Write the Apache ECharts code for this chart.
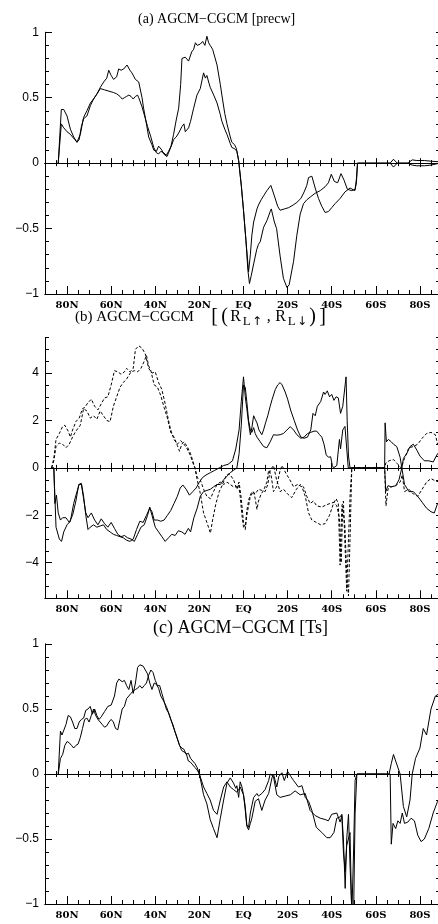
<!DOCTYPE html>
<html><head><meta charset="utf-8">
<script src="https://cdn.jsdelivr.net/npm/echarts@6/dist/echarts.min.js"></script>
<style>html,body{margin:0;padding:0;background:#fff}#c{width:438px;height:924px}</style>
</head><body><div id="c"></div>
<script>
// ---------- data ----------
const latTicks = [80, 60, 40, 20, 0, -20, -40, -60, -80];
const latTickLabels = ['80N', '60N', '40N', '20N', 'EQ', '20S', '40S', '60S', '80S'];
const titles = [
  '(a) AGCM\u2212CGCM [precw]',
  '(b) AGCM\u2212CGCM {g| }{b|[}{b|(}{r|R}{s|L}{a|\u2191}{r|,}{r|R}{s|L}{a|\u2193}{b|)}{b|]}',
  '(c) AGCM\u2212CGCM [Ts]'
];
const yLabelsA = [1, 0.5, 0, -0.5, -1];
const yLabelsB = [4, 2, 0, -2, -4];
const yLabelsC = [1, 0.5, 0, -0.5, -1];

const precwA = [[84,0],[82.6,0.41],[81.5,0.41],[80,0.36],[78.5,0.26],[77,0.2],[75.5,0.16],[74,0.22],[72.5,0.35],[71,0.4],[69.4,0.46],[68,0.49],[66.4,0.53],[64.9,0.58],[63.4,0.62],[62,0.65],[61.1,0.71],[60,0.67],[58.9,0.64],[57.5,0.66],[56.6,0.72],[55.5,0.71],[54.3,0.72],[52.8,0.75],[51.5,0.71],[50.6,0.69],[49,0.64],[47.5,0.62],[46,0.5],[45.3,0.42],[44,0.3],[43,0.2],[41.5,0.14],[40.7,0.1],[39.5,0.09],[38.5,0.13],[37.7,0.14],[37,0.1],[36.2,0.07],[34.7,0.05],[33,0.12],[31.7,0.22],[30.5,0.33],[29.4,0.42],[28.5,0.6],[27.9,0.8],[26.4,0.81],[24.9,0.78],[23.5,0.85],[22.6,0.87],[21.8,0.92],[21,0.9],[19.6,0.91],[18.5,0.93],[17.5,0.9],[16.6,0.97],[15.8,0.92],[15.1,0.9],[14,0.87],[12,0.75],[10.5,0.6],[9.8,0.52],[8.5,0.38],[7.5,0.3],[6,0.2],[5.3,0.16],[4,0.14],[3.2,0.11],[2.2,0.02],[1,-0.17],[0,-0.36],[-1.1,-0.59],[-2,-0.82],[-2.7,-0.92],[-3.5,-0.86],[-4.6,-0.77],[-6,-0.66],[-6.8,-0.62],[-7.6,-0.6],[-9.1,-0.49],[-10.6,-0.44],[-12.1,-0.37],[-12.6,-0.35],[-14,-0.45],[-15,-0.5],[-16.6,-0.71],[-18.1,-0.88],[-19.7,-0.95],[-20.7,-0.93],[-22.7,-0.75],[-24.2,-0.55],[-25.7,-0.39],[-27.2,-0.31],[-28.7,-0.28],[-30.2,-0.26],[-32.5,-0.23],[-34.8,-0.21],[-37,-0.18],[-38.5,-0.15],[-39.8,-0.085],[-41.2,-0.14],[-42.7,-0.15],[-44.2,-0.08],[-45.6,-0.13],[-47.1,-0.2],[-49.1,-0.21],[-50.6,-0.2],[-51.2,-0.12],[-51.7,0],[-66.5,0],[-68,-0.03],[-69.7,0],[-74.5,0],[-76.5,-0.015],[-78.6,-0.02],[-82,-0.02],[-85,-0.015],[-89,0]];
const precwB = [[84,0],[82.6,0.30],[81.5,0.27],[80,0.24],[78.5,0.22],[77.7,0.21],[76.5,0.18],[75.5,0.16],[74.5,0.18],[73.5,0.28],[72.5,0.34],[71,0.36],[69.4,0.44],[68,0.49],[66.4,0.53],[64.9,0.57],[63,0.56],[61,0.55],[59,0.54],[57.5,0.53],[56,0.51],[55,0.49],[54,0.5],[53,0.51],[52,0.52],[51,0.51],[50,0.49],[49,0.51],[48,0.52],[47.5,0.5],[46,0.43],[45,0.37],[43.5,0.28],[42,0.2],[40.7,0.12],[39.5,0.08],[38.5,0.07],[37.5,0.09],[36.2,0.08],[35,0.06],[34,0.09],[32.5,0.14],[31.7,0.18],[30.5,0.2],[29.4,0.23],[27.9,0.28],[27,0.3],[26.4,0.24],[25.5,0.25],[24.9,0.27],[24,0.32],[22.6,0.42],[21.1,0.52],[19.6,0.57],[18.1,0.69],[17.3,0.65],[16.6,0.67],[15.8,0.62],[15.1,0.58],[13.5,0.52],[12,0.46],[10.5,0.37],[9.8,0.32],[8.5,0.26],[7.5,0.22],[6,0.15],[5.3,0.12],[4,0.11],[3,0.09],[2.2,0.02],[1,-0.17],[0,-0.36],[-1.1,-0.59],[-2.3,-0.83],[-3.1,-0.7],[-3.8,-0.55],[-4.6,-0.45],[-6.1,-0.35],[-6.8,-0.32],[-8,-0.28],[-9.1,-0.25],[-10.6,-0.21],[-12.4,-0.17],[-14,-0.25],[-15.5,-0.33],[-16.6,-0.36],[-18.5,-0.35],[-20.5,-0.34],[-22.5,-0.32],[-24.2,-0.3],[-26,-0.27],[-27.5,-0.22],[-28.7,-0.17],[-29.5,-0.11],[-31,-0.1],[-32.5,-0.19],[-34,-0.27],[-35.5,-0.33],[-37,-0.377],[-38.5,-0.37],[-40,-0.34],[-41.5,-0.31],[-43.8,-0.27],[-46,-0.22],[-48.3,-0.19],[-50.5,-0.21],[-51.2,-0.15],[-51.7,0],[-66.5,0],[-68,0.03],[-69.7,0],[-74.5,0],[-76.5,0.025],[-78.6,0.02],[-82,0.02],[-85,0.015],[-89,0.01]];

const rlSolidA = [[87,0],[86,0],[85.5,-1.5],[84.8,-1.15],[84,-1.9],[83,-2.2],[82,-2.1],[80.5,-2.1],[79,-2.3],[77.5,-2.0],[76,-1.4],[74.7,-0.7],[73.5,-0.65],[72.5,-1.2],[71.5,-2.0],[70.5,-2.6],[69.5,-2.5],[68,-2.4],[66.5,-2.5],[65,-2.45],[63.5,-2.4],[62,-2.6],[60.5,-2.7],[59,-2.8],[57.5,-2.85],[56,-2.9],[54.5,-2.95],[53,-3.05],[51.5,-3.1],[50,-3.0],[48.5,-2.6],[47,-2.25],[45.5,-2.3],[44,-2.0],[42.5,-1.7],[41.5,-1.85],[40.5,-2.2],[39,-2.2],[37.5,-2.25],[36,-2.2],[34.5,-2.0],[33,-1.8],[31.5,-1.5],[30,-1.2],[28.7,-0.85],[27.5,-0.72],[26,-0.9],[24.5,-1.15],[23,-1.0],[21.5,-0.85],[20,-0.6],[18.5,-0.4],[17,-0.3],[15,-0.2],[13,-0.1],[11,0],[9,0.1],[7,0.15],[5,0.3],[3.5,0.8],[2,1.6],[1,2.8],[0,3.84],[-0.8,3.0],[-1.5,2.5],[-2.3,1.9],[-3.1,1.4],[-3.8,1.7],[-4.6,2.2],[-5.3,2.05],[-6.1,1.9],[-7,1.6],[-8.3,1.4],[-9.1,1.6],[-10,1.9],[-11,2.2],[-12.1,2.6],[-13,2.9],[-14.4,3.3],[-15.5,3.5],[-16.6,3.6],[-17.5,3.5],[-18.9,3.2],[-20,2.9],[-21.5,2.4],[-23,2.0],[-24.5,1.6],[-26,1.3],[-27.5,1.25],[-29,1.3],[-30.5,1.6],[-31.5,2.3],[-32.5,2.2],[-33.5,2.6],[-35,2.8],[-36.3,3.2],[-37,3.1],[-38,3.25],[-39,3.0],[-40,3.1],[-41,2.85],[-42,3.0],[-43,2.95],[-44,2.3],[-45,2.6],[-46.5,3.84],[-47,2.0],[-47.6,0.5],[-48.3,0],[-64,0],[-64.2,1.9],[-64.8,1.1],[-65.7,1.2],[-67,1.1],[-68,1.0],[-69.5,0.9],[-71,0.45],[-71.8,0],[-73,-0.7],[-75,-1.0],[-77,-1.0],[-79,-1.2],[-81,-1.45],[-83,-1.7],[-85,-1.85],[-86.5,-1.9],[-88,-1.5],[-89,-1.4]];
const rlSolidB = [[87,0],[86,0],[85,-2.5],[83.5,-3.0],[82.5,-3.1],[81.5,-2.7],[80,-2.4],[78.5,-2.25],[77,-1.5],[75.5,-1.0],[74.5,-0.7],[73.5,-0.7],[72.5,-1.3],[71.5,-1.9],[70.5,-2.1],[69,-1.9],[67.5,-2.2],[66,-2.4],[64.5,-2.15],[63,-2.35],[61.5,-2.5],[60,-2.3],[58.5,-2.55],[57,-2.8],[55.5,-2.9],[54,-2.85],[52.5,-2.95],[51,-3.0],[49.5,-3.1],[48,-2.8],[46.5,-2.5],[45,-2.4],[43.5,-2.0],[42.5,-1.65],[41.5,-2.0],[40,-2.5],[38.5,-2.7],[37,-2.9],[35.5,-3.1],[34,-2.95],[32.5,-2.8],[31,-2.85],[29.5,-2.65],[28,-2.7],[26.5,-2.8],[25,-2.55],[24,-2.7],[22.5,-2.1],[21,-1.7],[19.6,-1.2],[18.1,-1.0],[16.6,-0.95],[15,-0.9],[13.6,-0.8],[12,-0.7],[10.5,-0.7],[9,-0.5],[7.5,-0.35],[6,-0.2],[4.5,-0.1],[3,0],[2,0.6],[1,1.8],[0,3.5],[-0.8,3.4],[-1.5,2.8],[-2.3,2.0],[-3.1,1.6],[-3.8,1.5],[-4.6,1.7],[-5.3,1.45],[-6.1,1.3],[-7.6,1.1],[-9.1,0.9],[-9.8,0.82],[-10.6,0.85],[-12.1,1.1],[-13.6,1.4],[-15,1.38],[-16.6,1.4],[-18.1,1.45],[-19.7,1.6],[-21.2,1.74],[-22.7,1.6],[-24.2,1.4],[-26,1.25],[-27.5,1.3],[-29,1.45],[-30.5,1.5],[-32,1.55],[-33.2,1.55],[-34.5,1.4],[-35.5,1.3],[-36.5,1.0],[-37.5,0.55],[-38.5,0.45],[-39.5,0.47],[-40.3,0.1],[-40.8,0],[-42.3,0.1],[-43.5,1.2],[-44,0.8],[-45,1.6],[-46,1.75],[-46.8,1.8],[-47.5,0],[-64,0],[-64.5,-1.0],[-65.5,-0.75],[-67,-0.8],[-69,-0.75],[-70.5,-0.5],[-71.8,0],[-72.5,0.4],[-74,0.6],[-75.5,0.9],[-77,1.0],[-78.6,0.75],[-80,0.5],[-82,0.3],[-84,0.3],[-86,0.25],[-88,0.6],[-89,0.7]];
const rlDashA = [[87,0],[86,0.4],[85,1.2],[83.5,1.45],[82,1.75],[81,1.8],[79.5,1.55],[78.5,1.3],[77.5,1.6],[76,1.95],[74.5,2.1],[73,2.5],[72,2.55],[70.5,2.75],[69,2.9],[67.5,2.6],[66,2.45],[64.5,2.7],[63,2.95],[61.5,3.0],[60,3.5],[58.5,4.1],[57,4.05],[55.5,3.95],[54,4.05],[53,4.2],[51.5,4.05],[50,4.2],[49,5.0],[47.5,5.15],[46,5.05],[44.5,4.8],[43,4.2],[41.5,4.0],[40,4.05],[38.5,3.6],[37,3.3],[35.5,2.7],[34,2.0],[33,1.6],[31.5,1.2],[30,1.0],[28.5,1.15],[27,1.0],[25.5,0.8],[24,0.5],[22.5,0.1],[22,0],[21,-0.5],[19.6,-1.07],[18.1,-1.9],[16.6,-2.3],[15,-2.75],[14,-2.2],[12.5,-1.5],[11,-1.0],[9.5,-0.7],[8,-0.35],[7,-0.25],[6,-0.3],[4.5,-0.5],[3,-0.9],[2.2,-0.7],[1.5,-1.2],[0.7,-2.0],[0,-2.5],[-0.8,-2.6],[-1.5,-2.0],[-2.3,-1.6],[-3.1,-1.2],[-4.6,-1.0],[-5.3,-1.3],[-6.1,-1.75],[-6.8,-1.4],[-8,-1.1],[-9.1,-0.95],[-10.6,-0.6],[-11.4,-0.1],[-12.5,-0.3],[-13.6,-1.0],[-15,-0.8],[-16.6,-0.1],[-17.5,0.1],[-18.5,-0.1],[-19.7,-0.3],[-21,-0.5],[-22.7,-0.8],[-24.5,-0.7],[-26.5,-0.8],[-28,-1.2],[-29.5,-1.9],[-31,-2.2],[-33,-2.3],[-35,-2.4],[-37,-2.35],[-39,-2.0],[-40.8,-1.5],[-42,-1.3],[-43,-1.5],[-43.8,-4.1],[-44.6,-1.6],[-45.3,-1.4],[-46,-3.2],[-46.8,-5.2],[-47.6,-3.0],[-48.3,-1.2],[-49.1,0],[-64,0],[-64.5,0.2],[-66,0.3],[-68,0.35],[-69.5,0.2],[-71.5,0],[-73,0.4],[-75,0.85],[-77,0.9],[-79,1.0],[-81,1.25],[-83,1.45],[-85,1.5],[-87,1.4],[-88,1.0],[-89,0.9]];
const rlDashB = [[87,0],[86,0.3],[85,0.9],[83.5,1.05],[82,1.0],[80.5,0.85],[79,1.0],[77.5,1.3],[76,1.55],[74,1.8],[72.5,2.5],[71,2.4],[69.5,2.1],[68,2.2],[66.5,2.05],[65,2.4],[63.5,2.2],[62,2.0],[60.5,1.95],[59,2.6],[57.5,3.0],[56,3.4],[54.5,3.6],[53,3.75],[51,4.05],[49.5,4.1],[48,4.05],[46.5,4.2],[45,4.5],[44,4.75],[43,4.3],[42,4.1],[40.5,3.5],[39,3.4],[37.5,3.05],[36,2.55],[34.5,2.1],[33,1.5],[31.5,1.3],[30,0.95],[29,0.7],[28,1.0],[27,1.1],[25.5,0.9],[24,0.6],[23,0.3],[22,0],[21,-0.4],[19.6,-0.5],[18.1,-0.9],[16.6,-1.2],[15,-1.3],[13.6,-1.0],[12,-0.7],[10.5,-0.6],[9,-0.7],[7.5,-0.6],[6,-0.7],[4.5,-0.8],[3,-0.8],[2,-0.6],[1,-1.3],[0,-2.3],[-0.8,-2.5],[-1.5,-1.8],[-2.5,-1.3],[-3.8,-1.0],[-5.3,-1.1],[-6.8,-0.9],[-8.3,-0.95],[-9.8,-1.0],[-11,-0.7],[-12.1,-0.1],[-13.6,0.1],[-15,-0.5],[-16.6,-1.0],[-18.1,-0.9],[-20,-1.1],[-21.9,-1.25],[-24,-0.9],[-25.7,-0.7],[-27.2,-0.8],[-28.7,-1.2],[-30.2,-1.5],[-31.7,-1.4],[-33.2,-1.6],[-35.5,-1.65],[-37.8,-1.55],[-39.3,-1.5],[-41,-1.45],[-42.3,-1.6],[-43.5,-2.1],[-44.3,-4.0],[-45,-1.6],[-46,-2.5],[-46.8,-4.5],[-47.6,-5.4],[-48.3,-3.0],[-49.1,0],[-64,0],[-64.6,-1.6],[-65.5,-0.9],[-67,-0.8],[-69,-0.75],[-71,-0.6],[-72,-0.3],[-73,-1.0],[-75,-0.9],[-77,-1.1],[-79,-1.2],[-81,-0.9],[-83,-0.6],[-85,-0.45],[-87,-0.55],[-89,-0.6]];

const tsA = [[84,0],[83,0.33],[82.3,0.3],[81.5,0.3],[80.5,0.38],[79.5,0.45],[78.5,0.44],[77.5,0.4],[76.5,0.35],[75.5,0.35],[74.5,0.4],[73.5,0.42],[72.5,0.43],[71.5,0.49],[70.5,0.5],[69.5,0.52],[68.5,0.46],[67.5,0.5],[66.5,0.45],[65.5,0.42],[64.5,0.44],[63,0.48],[61.5,0.52],[60,0.53],[58.5,0.6],[57.5,0.7],[56.5,0.73],[55,0.71],[54,0.72],[53,0.68],[52,0.65],[51,0.72],[50,0.62],[49,0.7],[48,0.82],[47,0.84],[45.5,0.83],[44.5,0.8],[43.5,0.77],[42.5,0.7],[41.5,0.65],[40.5,0.7],[39.5,0.69],[38.5,0.66],[37.5,0.6],[36.5,0.57],[35,0.52],[33.5,0.45],[32,0.37],[30.5,0.3],[29,0.22],[28,0.2],[27,0.19],[26,0.15],[25,0.16],[24,0.12],[23,0.1],[22,0.08],[21,0.05],[20,0],[18.1,-0.16],[16.6,-0.23],[15.1,-0.35],[13.6,-0.42],[12,-0.49],[10.5,-0.34],[9,-0.2],[7.5,-0.07],[6,-0.03],[4.5,-0.07],[3.5,-0.11],[3,-0.09],[2.2,-0.18],[1.5,-0.06],[0.7,-0.1],[0,-0.16],[-0.8,-0.28],[-1.5,-0.4],[-2.3,-0.43],[-3.1,-0.38],[-3.8,-0.34],[-5.3,-0.21],[-6.8,-0.19],[-8.3,-0.28],[-9.8,-0.2],[-11.4,-0.15],[-12.9,-0.03],[-13.6,0],[-15.1,-0.1],[-16,-0.02],[-17.4,0.01],[-18.5,-0.05],[-20,0.02],[-21.5,-0.02],[-22.7,-0.05],[-24.9,-0.1],[-26.5,-0.09],[-28,-0.18],[-29.5,-0.21],[-31,-0.28],[-33,-0.41],[-35.5,-0.45],[-37.8,-0.49],[-39.3,-0.49],[-41,-0.45],[-42.3,-0.34],[-43.8,-0.33],[-44.6,-0.31],[-45.3,-0.5],[-46.1,-0.88],[-46.8,-0.5],[-47.6,-0.31],[-48.3,-0.7],[-49.1,-1.05],[-49.9,-1.1],[-50.6,-0.3],[-51.4,0],[-66.5,0],[-67,-0.54],[-67.8,-0.38],[-69,-0.42],[-70,-0.36],[-71,-0.38],[-72,-0.3],[-73,-0.38],[-74.5,-0.37],[-76,-0.34],[-77.5,-0.36],[-79,-0.47],[-80.5,-0.52],[-82,-0.5],[-84,-0.42],[-86,-0.3],[-88,-0.21],[-89,-0.2]];
const tsB = [[84,0],[83,0.12],[82,0.15],[81,0.22],[80,0.25],[79,0.24],[78,0.22],[77,0.2],[76,0.22],[75,0.23],[74,0.28],[73,0.35],[72,0.42],[71,0.43],[70,0.4],[69,0.45],[68,0.5],[67,0.45],[66,0.42],[65,0.4],[64,0.38],[63,0.36],[62,0.37],[61,0.4],[60,0.42],[59,0.4],[58,0.35],[57,0.34],[56,0.42],[55,0.5],[54,0.52],[53,0.58],[52,0.6],[51,0.62],[50,0.64],[49,0.65],[48,0.66],[47,0.68],[46,0.66],[45,0.68],[44,0.7],[43,0.76],[42,0.8],[41,0.78],[40,0.72],[39,0.68],[38,0.68],[37,0.62],[36,0.56],[35,0.5],[34,0.47],[33,0.42],[32,0.38],[31,0.32],[30,0.27],[29,0.22],[28,0.18],[27,0.17],[26,0.16],[25,0.1],[24,0.09],[23,0.07],[22,0.05],[21,0.03],[20,0],[18.1,-0.1],[16.6,-0.15],[15.1,-0.2],[13.6,-0.28],[12,-0.31],[10.5,-0.2],[9,-0.1],[7.5,-0.06],[6,-0.1],[4.5,-0.12],[3,-0.14],[2.2,-0.12],[1.5,-0.1],[0.7,-0.09],[0,-0.16],[-0.8,-0.25],[-1.5,-0.39],[-2.3,-0.41],[-3.1,-0.3],[-4.6,-0.18],[-6.1,-0.15],[-6.8,-0.17],[-8.3,-0.15],[-9.8,-0.12],[-11.4,-0.05],[-12.1,0],[-13.6,-0.02],[-15.1,-0.16],[-16.6,-0.18],[-18.9,-0.17],[-21.2,-0.16],[-23.4,-0.13],[-25.7,-0.16],[-28,-0.15],[-30.2,-0.28],[-32.5,-0.32],[-34.8,-0.34],[-37,-0.35],[-38.5,-0.36],[-40,-0.31],[-42.3,-0.3],[-43.8,-0.37],[-44.6,-0.32],[-45.3,-0.6],[-46.1,-0.75],[-46.8,-0.55],[-47.6,-0.55],[-48.3,-0.45],[-49.1,-1.1],[-49.9,-0.6],[-50.6,-0.05],[-51.4,0],[-66,0],[-67,0.08],[-68,0.15],[-69,0.1],[-71,0],[-72.5,-0.25],[-74,-0.33],[-75.5,-0.2],[-76.5,0],[-78,0.12],[-80,0.2],[-81.5,0.35],[-83,0.3],[-85,0.5],[-87,0.6],[-89,0.62]];

// ---------- layout ----------
const BLACK = '#000';
const LS = { color: BLACK, width: 1 };
const PLOT_LEFT = 45, PLOT_WIDTH = 397;
const SERIF = 'Liberation Serif';
const panels = [
  { top: 32.3, height: 261.7, min: -1, max: 1, minor: 0.1, majors: [-1, -0.5, 0, 0.5, 1], labels: yLabelsA,
    title: { left: 138, top: 12, size: 14, lh: 14 },
    series: [{ data: precwA, dash: false }, { data: precwB, dash: false }] },
  { top: 337.5, height: 260.8, min: -5.5, max: 5.5, minor: 0.5, majors: [-4, -2, 0, 2, 4], labels: yLabelsB,
    title: { left: 75, top: 306, size: 15, lh: 22 },
    series: [{ data: rlSolidA, dash: false }, { data: rlSolidB, dash: false }, { data: rlDashA, dash: true }, { data: rlDashB, dash: true }] },
  { top: 644, height: 260, min: -1, max: 1, minor: 0.1, majors: [-1, -0.5, 0, 0.5, 1], labels: yLabelsC,
    title: { left: 153, top: 619, size: 18, lh: 18 },
    series: [{ data: tsA, dash: false }, { data: tsB, dash: false }] }
];

function latLabel(v) {
  const i = latTicks.indexOf(Math.round(v));
  return i >= 0 && Math.abs(v - latTicks[i]) < 1e-6 ? latTickLabels[i] : '';
}
function yLabel(v) {
  if (Math.abs(v) < 1e-9) return '0';
  return (v < 0 ? '\u2212' : '') + String(Math.abs(Math.round(v * 100) / 100));
}

const grid = [], xAxis = [], yAxis = [], series = [], title = [];
panels.forEach((p, g) => {
  grid.push({ left: PLOT_LEFT, width: PLOT_WIDTH, top: p.top, height: p.height, outerBoundsMode: 'none', containLabel: false });
  const yMain = yAxis.length;
  const xMainIdx = xAxis.length;
  const xBase = { type: 'value', gridIndex: g, min: -90, max: 90, inverse: true, splitLine: { show: false } };
  const mk = (o) => Object.assign({}, xBase, o);
  xAxis.push(mk({ position: 'bottom', interval: 5,
    axisLine: { show: true, onZero: false, lineStyle: LS },
    axisTick: { show: true, inside: true, length: 4, lineStyle: LS },
    axisLabel: { show: true, customValues: latTicks, formatter: latLabel, margin: 6, color: BLACK,
      fontFamily: 'DejaVu Serif', fontWeight: 'bold', fontSize: 10 } }));
  xAxis.push(mk({ position: 'bottom', interval: 5,
    axisLine: { show: true, onZero: false, lineStyle: LS },
    axisTick: { show: true, inside: true, length: 8, customValues: latTicks, lineStyle: LS },
    axisLabel: { show: false } }));
  xAxis.push(mk({ position: 'bottom', interval: 5,
    axisLine: { show: true, onZero: true, onZeroAxisIndex: yMain, lineStyle: LS },
    axisTick: { show: true, inside: true, length: 3, lineStyle: LS },
    axisLabel: { show: false } }));
  xAxis.push(mk({ position: 'top', interval: 5,
    axisLine: { show: true, onZero: true, onZeroAxisIndex: yMain, lineStyle: LS },
    axisTick: { show: true, inside: true, length: 3, lineStyle: LS },
    axisLabel: { show: false } }));
  xAxis.push(mk({ position: 'bottom', interval: 5,
    axisLine: { show: true, onZero: true, onZeroAxisIndex: yMain, lineStyle: LS },
    axisTick: { show: true, inside: true, length: 5, customValues: latTicks, lineStyle: LS },
    axisLabel: { show: false } }));
  xAxis.push(mk({ position: 'top', interval: 5,
    axisLine: { show: true, onZero: true, onZeroAxisIndex: yMain, lineStyle: LS },
    axisTick: { show: true, inside: true, length: 4, customValues: latTicks, lineStyle: LS },
    axisLabel: { show: false } }));

  const yBase = { type: 'value', gridIndex: g, min: p.min, max: p.max, interval: p.minor, splitLine: { show: false } };
  const my = (o) => Object.assign({}, yBase, o);
  yAxis.push(my({ position: 'left',
    axisLine: { show: true, onZero: false, lineStyle: LS },
    axisTick: { show: true, inside: true, length: 4, lineStyle: LS },
    axisLabel: { show: true, customValues: p.labels, formatter: yLabel, margin: 6, color: BLACK,
      fontFamily: 'Liberation Sans', fontSize: 12 } }));
  yAxis.push(my({ position: 'left',
    axisLine: { show: true, onZero: false, lineStyle: LS },
    axisTick: { show: true, inside: true, length: 7, customValues: p.majors, lineStyle: LS },
    axisLabel: { show: false } }));
  yAxis.push(my({ position: 'right',
    axisLine: { show: true, onZero: false, lineStyle: LS },
    axisTick: { show: true, inside: true, length: 6, lineStyle: LS },
    axisLabel: { show: false } }));

  p.series.forEach(s => {
    series.push({ type: 'line', xAxisIndex: xMainIdx, yAxisIndex: yMain, data: s.data,
      showSymbol: false, symbol: 'none', clip: true, silent: true,
      lineStyle: { color: BLACK, width: 1, type: s.dash ? [3, 2] : 'solid' } });
  });

  const fs = p.title.size, lh = p.title.lh;
  title.push({ text: titles[g], left: p.title.left, top: p.title.top, padding: 0,
    textStyle: { color: BLACK, fontFamily: SERIF, fontWeight: 'normal', fontSize: fs, lineHeight: lh,
      rich: {
        g: { fontFamily: SERIF, fontSize: fs, width: 12, lineHeight: lh },
        b: { fontFamily: SERIF, fontSize: 20, color: BLACK, width: 10, align: 'center', lineHeight: lh },
        r: { fontFamily: SERIF, fontSize: 16, color: BLACK, width: 12, align: 'center', lineHeight: lh },
        s: { fontFamily: SERIF, fontSize: 13, color: BLACK, width: 10, align: 'center', lineHeight: 14, verticalAlign: 'bottom' },
        a: { fontFamily: 'DejaVu Sans', fontSize: 12, color: BLACK, width: 11, align: 'center', lineHeight: 14, verticalAlign: 'bottom' }
      } } });
});

const chart = echarts.init(document.getElementById('c'), null, { renderer: 'canvas' });
chart.setOption({ animation: false, backgroundColor: '#fff', title, grid, xAxis, yAxis, series });
</script></body></html>
